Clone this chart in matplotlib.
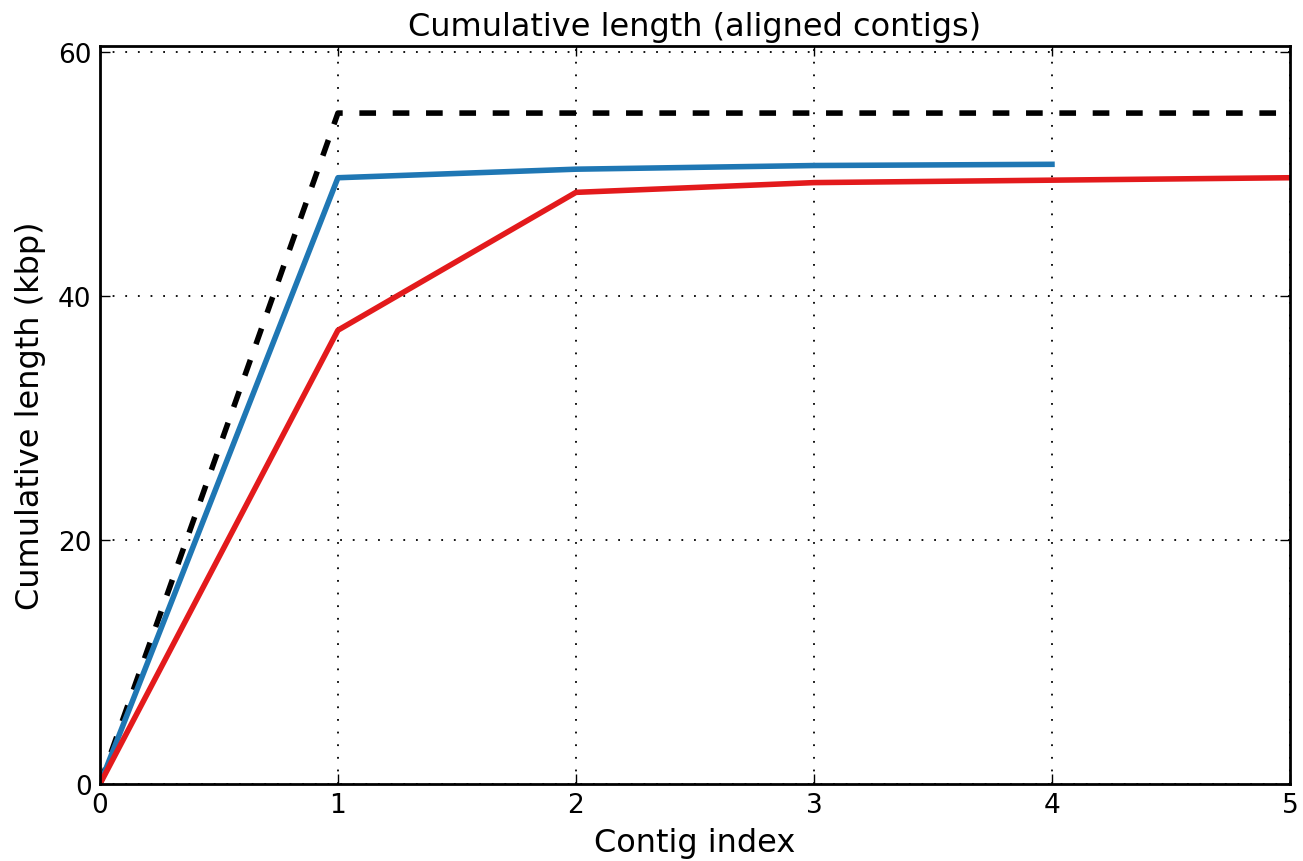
import matplotlib
matplotlib.use("Agg")
import matplotlib.pyplot as plt

# cumulative length (kbp) by contig index
reference_x = [0, 1, 2, 3, 4, 5]
reference_y = [0, 55.0, 55.0, 55.0, 55.0, 55.0]
blue_x = [0, 1, 2, 3, 4]
blue_y = [0, 49.7, 50.4, 50.7, 50.8]
red_x = [0, 1, 2, 3, 4, 5]
red_y = [0, 37.2, 48.5, 49.3, 49.5, 49.7]

fig = plt.figure(figsize=(13.03, 8.62), dpi=100)
ax = fig.add_axes([0.0767, 0.0893, 0.9133, 0.8562])

ax.plot(reference_x, reference_y, color="black", lw=4, ls=(0, (3, 3)))
ax.plot(blue_x, blue_y, color="#1f77b4", lw=4)
ax.plot(red_x, red_y, color="#e31a1c", lw=4)

ax.set_xlim(0, 5)
ax.set_ylim(0, 60.5)
ax.set_xticks(range(6))
ax.set_yticks([0, 20, 40, 60])
ax.grid(True, color="black", linestyle=(0, (1, 6)), lw=1.3)
ax.tick_params(direction="in", top=True, right=True, labelsize=19, length=7, width=1, pad=6)
for s in ax.spines.values():
    s.set_linewidth(2)

ax.set_title("Cumulative length (aligned contigs)", fontsize=23, pad=8)
ax.set_xlabel("Contig index", fontsize=23, labelpad=6)
ax.set_ylabel("Cumulative length (kbp)", fontsize=23, labelpad=9)

fig.savefig("out.png", dpi=100)
